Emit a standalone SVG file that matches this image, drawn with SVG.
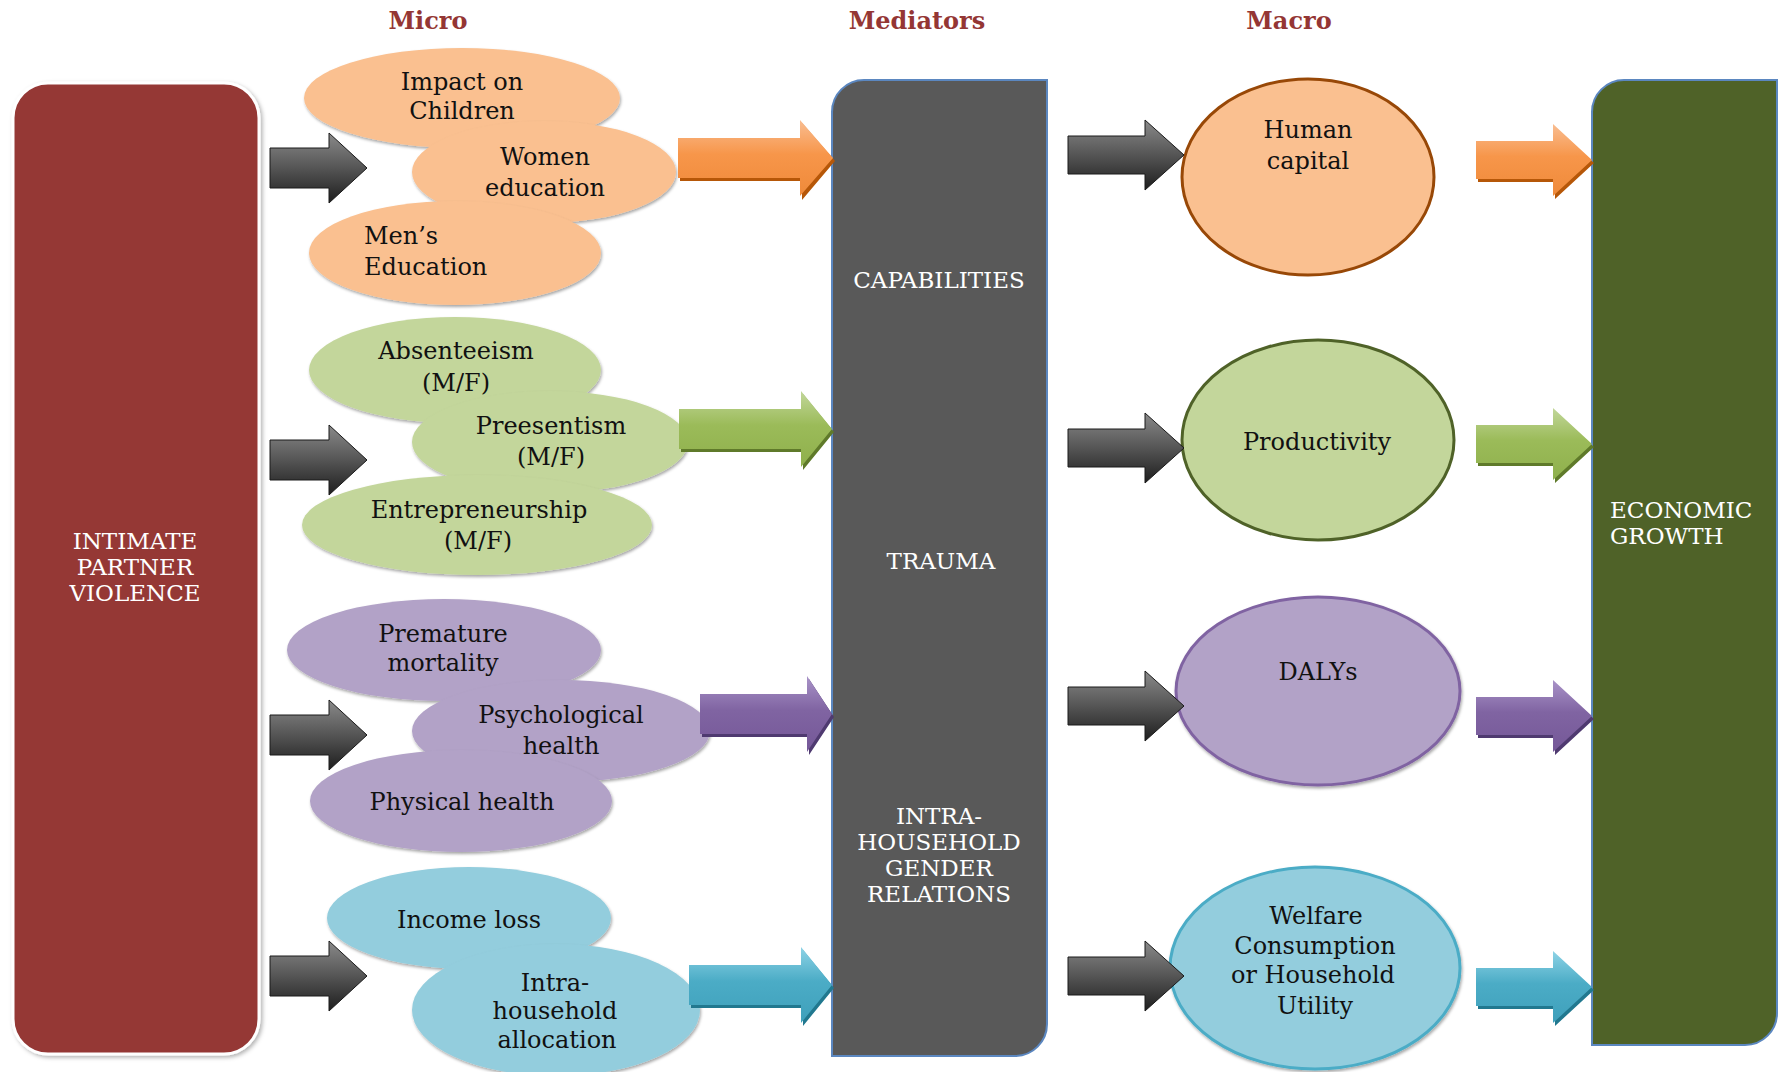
<svg xmlns="http://www.w3.org/2000/svg" width="1786" height="1072" viewBox="0 0 1786 1072">
<defs>
<style>
.t{font-family:"DejaVu Serif","Liberation Serif",serif;font-size:24px;fill:#111;text-anchor:middle}
.cap{font-family:"DejaVu Serif","Liberation Serif",serif;font-size:23px;fill:#fff;text-anchor:middle}
.title{font-family:"DejaVu Serif","Liberation Serif",serif;font-size:24px;font-weight:bold;fill:#943634;text-anchor:middle}
.tl{text-anchor:start}
.eo{fill:#fac090;filter:url(#sh)}
.eg{fill:#c3d69b;filter:url(#sh)}
.ep{fill:#b2a2c7;filter:url(#sh)}
.et{fill:#93cddd;filter:url(#sh)}
.ga{fill:url(#gGray);stroke:#1a1a1a;stroke-width:1}
.ao{fill:url(#gO)}.aol{fill:#b65708}
.ag{fill:url(#gG)}.agl{fill:#5f7a2a}
.ap{fill:url(#gP)}.apl{fill:#4f3a70}
.at{fill:url(#gT)}.atl{fill:#21788f}
</style>
<filter id="sh" x="-10%" y="-10%" width="120%" height="125%">
<feDropShadow dx="1" dy="2" stdDeviation="1.5" flood-color="#000" flood-opacity="0.35"/>
</filter>
<filter id="shb" x="-5%" y="-5%" width="110%" height="110%">
<feDropShadow dx="2" dy="2" stdDeviation="2" flood-color="#000" flood-opacity="0.3"/>
</filter>
<linearGradient id="gGray" x1="0" y1="0" x2="0" y2="1">
<stop offset="0" stop-color="#8a8a8a"/><stop offset="0.5" stop-color="#555"/><stop offset="1" stop-color="#1e1e1e"/>
</linearGradient>
<linearGradient id="gO" x1="0" y1="0" x2="0" y2="1">
<stop offset="0" stop-color="#f9bd91"/><stop offset="0.45" stop-color="#f7964a"/><stop offset="1" stop-color="#ef8a3a"/>
</linearGradient>
<linearGradient id="gG" x1="0" y1="0" x2="0" y2="1">
<stop offset="0" stop-color="#c2d79a"/><stop offset="0.45" stop-color="#9bbb59"/><stop offset="1" stop-color="#8fb04c"/>
</linearGradient>
<linearGradient id="gP" x1="0" y1="0" x2="0" y2="1">
<stop offset="0" stop-color="#a993c8"/><stop offset="0.45" stop-color="#8064a2"/><stop offset="1" stop-color="#755898"/>
</linearGradient>
<linearGradient id="gT" x1="0" y1="0" x2="0" y2="1">
<stop offset="0" stop-color="#8ed3e6"/><stop offset="0.45" stop-color="#4bacc6"/><stop offset="1" stop-color="#3fa0bb"/>
</linearGradient>
</defs>
<rect width="1786" height="1072" fill="#fff"/>

<g id="titles">
<text class="title" x="428" y="29">Micro</text>
<text class="title" x="917" y="29">Mediators</text>
<text class="title" x="1289" y="29">Macro</text>
</g>

<g id="ipv">
<rect x="13" y="83" width="246" height="971" rx="35" fill="#953735" stroke="#fff" stroke-width="3" filter="url(#shb)"/>
<text class="cap" x="135" y="549">INTIMATE</text>
<text class="cap" x="135" y="575">PARTNER</text>
<text class="cap" x="135" y="601">VIOLENCE</text>
</g>

<g id="mediators">
<path d="M 864 80 H 1047 V 1024 A 32 32 0 0 1 1015 1056 H 832 V 112 A 32 32 0 0 1 864 80 Z" fill="#595959" stroke="#5b87c0" stroke-width="2"/>
<text class="cap" x="939" y="288">CAPABILITIES</text>
<text class="cap" x="941" y="569">TRAUMA</text>
<text class="cap" x="939" y="824">INTRA-</text>
<text class="cap" x="939" y="850">HOUSEHOLD</text>
<text class="cap" x="939" y="876">GENDER</text>
<text class="cap" x="939" y="902">RELATIONS</text>
</g>

<g id="growth">
<path d="M 1624 80 H 1777 V 1013 A 32 32 0 0 1 1745 1045 H 1592 V 112 A 32 32 0 0 1 1624 80 Z" fill="#4f6228" stroke="#5b87c0" stroke-width="2"/>
<text class="cap tl" x="1610" y="518">ECONOMIC</text>
<text class="cap tl" x="1610" y="544">GROWTH</text>
</g>

<g id="micro-orange">
<g id="impact-children">
<ellipse class="eo" cx="462" cy="98" rx="158" ry="50"/>
<text class="t" x="462" y="90">Impact on</text>
<text class="t" x="462" y="119">Children</text>
</g>
<g id="women-education">
<ellipse class="eo" cx="544" cy="172" rx="132" ry="51"/>
<text class="t" x="545" y="165">Women</text>
<text class="t" x="545" y="196">education</text>
</g>
<g id="mens-education">
<ellipse class="eo" cx="455" cy="253" rx="146" ry="52"/>
<text class="t tl" x="364" y="244">Men’s</text>
<text class="t tl" x="364" y="275">Education</text>
</g>
</g>

<g id="micro-green">
<g id="absenteeism">
<ellipse class="eg" cx="455" cy="370" rx="146" ry="53"/>
<text class="t" x="456" y="359">Absenteeism</text>
<text class="t" x="456" y="391">(M/F)</text>
</g>
<g id="preesentism">
<ellipse class="eg" cx="550" cy="442" rx="138" ry="51"/>
<text class="t" x="551" y="434">Preesentism</text>
<text class="t" x="551" y="465">(M/F)</text>
</g>
<g id="entrepreneurship">
<ellipse class="eg" cx="477" cy="525" rx="175" ry="50"/>
<text class="t" x="479" y="518">Entrepreneurship</text>
<text class="t" x="478" y="549">(M/F)</text>
</g>
</g>

<g id="micro-purple">
<g id="premature-mortality">
<ellipse class="ep" cx="444" cy="650" rx="157" ry="51"/>
<text class="t" x="443" y="642">Premature</text>
<text class="t" x="443" y="671">mortality</text>
</g>
<g id="psychological-health">
<ellipse class="ep" cx="561" cy="731" rx="149" ry="51"/>
<text class="t" x="561" y="723">Psychological</text>
<text class="t" x="561" y="754">health</text>
</g>
<g id="physical-health">
<ellipse class="ep" cx="461" cy="801" rx="151" ry="51"/>
<text class="t" x="462" y="810">Physical health</text>
</g>
</g>

<g id="micro-teal">
<g id="income-loss">
<ellipse class="et" cx="469" cy="918" rx="142" ry="51"/>
<text class="t" x="469" y="928">Income loss</text>
</g>
<g id="intra-household-allocation">
<ellipse class="et" cx="556" cy="1010" rx="144" ry="66"/>
<text class="t" x="555" y="991">Intra-</text>
<text class="t" x="555" y="1019">household</text>
<text class="t" x="557" y="1048">allocation</text>
</g>
</g>

<g id="human-capital">
<ellipse cx="1308" cy="177" rx="126" ry="98" fill="#fac090" stroke="#984807" stroke-width="3"/>
<text class="t" x="1308" y="138">Human</text>
<text class="t" x="1308" y="169">capital</text>
</g>
<g id="productivity">
<ellipse cx="1318" cy="440" rx="136" ry="100" fill="#c3d69b" stroke="#4f6228" stroke-width="3"/>
<text class="t" x="1317" y="450">Productivity</text>
</g>
<g id="dalys">
<ellipse cx="1318" cy="691" rx="142" ry="94" fill="#b2a2c7" stroke="#8064a2" stroke-width="3" filter="url(#sh)"/>
<text class="t" x="1318" y="680">DALYs</text>
</g>
<g id="welfare">
<ellipse cx="1315" cy="968" rx="145" ry="101" fill="#93cddd" stroke="#4bacc6" stroke-width="3" filter="url(#sh)"/>
<text class="t" x="1316" y="924">Welfare</text>
<text class="t" x="1315" y="954">Consumption</text>
<text class="t" x="1313" y="983">or Household</text>
<text class="t" x="1315" y="1014">Utility</text>
</g>

<g id="connectors">
<!-- IPV to micro -->
<path class="ga" d="M270 148 H329 V133 L367 168 L329 203 V188 H270 Z"/>
<path class="ga" d="M270 440 H329 V425 L367 460 L329 495 V480 H270 Z"/>
<path class="ga" d="M270 715 H329 V700 L367 735 L329 770 V755 H270 Z"/>
<path class="ga" d="M270 956 H329 V941 L367 976 L329 1011 V996 H270 Z"/>
<!-- micro to mediators -->
<path class="aol" d="M680 142 H802 V123 L835 161 L802 200 V181 H680 Z"/>
<path class="ao" d="M678 138 H800 V120 L833 158 L800 196 V178 H678 Z"/>
<path class="agl" d="M681 413 H803 V394 L834 432 L803 470 V452 H681 Z"/>
<path class="ag" d="M679 409 H801 V391 L832 429 L801 467 V449 H679 Z"/>
<path class="apl" d="M702 698 H809 V679 L834 717 L809 755 V737 H702 Z"/>
<path class="ap" d="M700 694 H807 V676 L832 714 L807 752 V734 H700 Z"/>
<path class="atl" d="M691 969 H803 V950 L834 988 L803 1026 V1008 H691 Z"/>
<path class="at" d="M689 965 H801 V947 L832 985 L801 1023 V1005 H689 Z"/>
<!-- mediators to macro -->
<path class="ga" d="M1068 136 H1145 V120 L1184 155 L1145 190 V174 H1068 Z"/>
<path class="ga" d="M1068 429 H1145 V413 L1184 448 L1145 483 V467 H1068 Z"/>
<path class="ga" d="M1068 687 H1145 V671 L1184 706 L1145 741 V725 H1068 Z"/>
<path class="ga" d="M1068 957 H1145 V941 L1184 976 L1145 1011 V995 H1068 Z"/>
<!-- macro to growth -->
<path class="aol" d="M1478 144 H1555 V127 L1594 163 L1555 199 V182 H1478 Z"/>
<path class="ao" d="M1476 141 H1553 V124 L1592 160 L1553 196 V179 H1476 Z"/>
<path class="agl" d="M1478 428 H1555 V411 L1594 447 L1555 483 V466 H1478 Z"/>
<path class="ag" d="M1476 425 H1553 V408 L1592 444 L1553 480 V463 H1476 Z"/>
<path class="apl" d="M1478 700 H1555 V683 L1594 719 L1555 755 V738 H1478 Z"/>
<path class="ap" d="M1476 697 H1553 V680 L1592 716 L1553 752 V735 H1476 Z"/>
<path class="atl" d="M1478 971 H1555 V954 L1594 990 L1555 1026 V1009 H1478 Z"/>
<path class="at" d="M1476 968 H1553 V951 L1592 987 L1553 1023 V1006 H1476 Z"/>
</g>
</svg>
